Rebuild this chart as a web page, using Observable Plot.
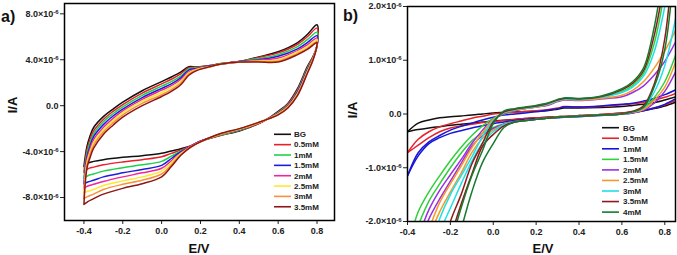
<!DOCTYPE html>
<html><head><meta charset="utf-8">
<script src="https://cdn.jsdelivr.net/npm/d3@7"></script>
<script src="https://cdn.jsdelivr.net/npm/@observablehq/plot@0.6"></script>
<style>
body{margin:0;background:#fff;}
#wrap{display:flex;width:677px;height:255px;overflow:hidden;}
#wrap svg{display:block;}
</style>
</head><body><div id="wrap"></div>
<script>
// ---------- Panel a (currents in units of 1e-6 A) ----------
const aNames = ["BG","0.5mM","1mM","1.5mM","2mM","2.5mM","3mM","3.5mM"];
const aColors = ["#111111","#e8202a","#1fd14a","#1c1ce0","#f0259e","#ffe730","#f7923a","#8e1616"];
const aXTicks = [-0.4,-0.2,0,0.2,0.4,0.6,0.8];
const aYTicks = [-8,-4,0,4,8];
// forward (anodic) sweep potentials
const aUpE = [-0.4,-0.385,-0.37,-0.35,-0.3,-0.25,-0.2,-0.1,0,0.05,0.1,0.14,0.18,0.25,0.3,0.4,0.5,0.6,0.7,0.75,0.8];
const aUpBG  = [-5.3,-3.6,-2.7,-1.9,-0.95,-0.3,0.3,1.3,2.1,2.5,2.95,3.4,3.38,3.5,3.65,3.85,4.25,4.7,5.5,6.2,7.05];
const aUp05  = [-5.8,-3.9,-3.0,-2.2,-1.2,-0.5,0.1,1.1,1.9,2.3,2.8,3.3,3.35,3.5,3.65,3.85,4.2,4.6,5.35,6.0,6.75];
const aUp10  = [-6.3,-4.2,-3.3,-2.45,-1.4,-0.7,-0.1,0.9,1.7,2.1,2.6,3.2,3.3,3.45,3.65,3.85,4.1,4.45,5.15,5.75,6.4];
const aUp15  = [-6.8,-4.5,-3.6,-2.7,-1.65,-0.9,-0.3,0.7,1.5,1.9,2.45,3.1,3.25,3.45,3.6,3.85,4.0,4.3,4.95,5.5,6.1];
const aUp20  = [-7.2,-4.75,-3.85,-2.95,-1.9,-1.1,-0.45,0.55,1.35,1.75,2.3,2.95,3.2,3.4,3.6,3.8,3.95,4.15,4.8,5.3,5.9];
const aUp25  = [-7.6,-5.0,-4.1,-3.2,-2.1,-1.3,-0.6,0.4,1.15,1.6,2.15,2.85,3.15,3.4,3.6,3.8,3.9,4.0,4.7,5.15,5.75];
const aUp30  = [-8.1,-5.25,-4.35,-3.45,-2.3,-1.5,-0.8,0.2,0.95,1.4,2.0,2.75,3.1,3.4,3.6,3.8,3.85,3.9,4.55,5.0,5.6];
const aUp35  = [-8.6,-5.5,-4.6,-3.7,-2.5,-1.7,-1.0,0.0,0.8,1.25,1.85,2.65,3.05,3.4,3.6,3.8,3.8,3.8,4.45,4.9,5.5];
// reverse (cathodic) sweep potentials
const aLoE = [0.8,0.78,0.75,0.7,0.65,0.6,0.55,0.5,0.4,0.3,0.2,0.15,0.1,0.05,0,-0.1,-0.2,-0.3,-0.35,-0.38,-0.4];
const aLoBG  = [5.2,4.3,3.4,1.5,0.2,-0.5,-1.1,-1.55,-2.2,-2.6,-3.1,-3.5,-3.75,-3.95,-4.15,-4.35,-4.5,-4.7,-4.85,-5.0,-5.3];
const aLo05  = [5.2,4.25,3.3,1.4,0.15,-0.55,-1.1,-1.55,-2.15,-2.6,-3.1,-3.5,-3.85,-4.15,-4.45,-4.7,-4.9,-5.15,-5.35,-5.5,-5.8];
const aLo10  = [5.25,4.2,3.2,1.3,0.05,-0.6,-1.1,-1.5,-2.15,-2.55,-3.1,-3.55,-3.95,-4.4,-4.85,-5.15,-5.4,-5.7,-5.95,-6.1,-6.3];
const aLo15  = [5.25,4.15,3.1,1.2,0.0,-0.65,-1.12,-1.5,-2.1,-2.5,-3.1,-3.55,-4.0,-4.6,-5.2,-5.55,-5.85,-6.2,-6.5,-6.65,-6.8];
const aLo20  = [5.25,4.1,3.0,1.1,-0.05,-0.7,-1.13,-1.5,-2.05,-2.5,-3.1,-3.55,-4.1,-4.8,-5.45,-5.85,-6.2,-6.6,-6.85,-7.0,-7.2];
const aLo25  = [5.3,4.1,2.95,1.05,-0.1,-0.72,-1.14,-1.48,-2.05,-2.5,-3.15,-3.6,-4.15,-4.95,-5.7,-6.2,-6.55,-6.95,-7.3,-7.45,-7.6];
const aLo30  = [5.3,4.05,2.85,0.95,-0.15,-0.76,-1.15,-1.46,-2.02,-2.47,-3.15,-3.6,-4.25,-5.15,-5.95,-6.5,-6.85,-7.3,-7.7,-7.9,-8.1];
const aLo35  = [5.3,4.0,2.8,0.9,-0.2,-0.8,-1.15,-1.45,-2.0,-2.45,-3.15,-3.6,-4.3,-5.3,-6.2,-6.8,-7.2,-7.7,-8.1,-8.35,-8.6];

// ---------- Panel b (currents in units of 1e-6 A) ----------
const bNames = ["BG","0.5mM","1mM","1.5mM","2mM","2.5mM","3mM","3.5mM","4mM"];
const bColors = ["#111111","#e8202a","#1616d8","#2fd03a","#9a30e0","#f59a2a","#1ee0e8","#8e1a1a","#157a2e"];
const bXTicks = [-0.4,-0.2,0,0.2,0.4,0.6,0.8];
const bYTicks = [-2,-1,0,1,2];
const bUpE = [-0.4,-0.35,-0.3,-0.25,-0.2,-0.15,-0.1,-0.05,0,0.05,0.1,0.15,0.2,0.25,0.3,0.33,0.4,0.5,0.6,0.65,0.7,0.75,0.8,0.85];
const bUpBG = [-0.33,-0.17,-0.11,-0.07,-0.05,-0.035,-0.02,0.0,0.02,0.03,0.04,0.045,0.05,0.06,0.09,0.11,0.11,0.12,0.14,0.16,0.18,0.21,0.26,0.32];
const bUp05 = [-0.72,-0.47,-0.33,-0.24,-0.18,-0.13,-0.08,-0.04,0.0,0.02,0.03,0.045,0.06,0.08,0.11,0.14,0.13,0.14,0.17,0.19,0.22,0.26,0.31,0.38];
const bUp10 = [-1.15,-0.72,-0.52,-0.4,-0.3,-0.23,-0.17,-0.11,-0.06,-0.02,0.0,0.02,0.04,0.07,0.1,0.13,0.13,0.15,0.18,0.2,0.24,0.29,0.36,0.45];
const bUp15 = [-2.5,-1.82,-1.45,-1.15,-0.87,-0.62,-0.4,-0.22,-0.08,0.0,0.06,0.1,0.13,0.16,0.24,0.27,0.26,0.3,0.42,0.53,0.75,1.3,2.3,3.6];
const bUp20 = [-2.9,-2.3,-1.78,-1.42,-1.13,-0.85,-0.55,-0.3,-0.1,0.01,0.06,0.1,0.13,0.16,0.23,0.26,0.25,0.28,0.32,0.4,0.52,0.72,0.98,1.34];
const bUp25 = [-3.4,-2.75,-2.15,-1.65,-1.3,-0.97,-0.63,-0.35,-0.1,0.02,0.07,0.1,0.13,0.17,0.24,0.27,0.26,0.29,0.35,0.44,0.6,0.85,1.17,1.55];
const bUp30 = [-4.1,-3.3,-2.6,-1.95,-1.5,-1.15,-0.8,-0.42,-0.12,0.03,0.08,0.11,0.14,0.18,0.25,0.28,0.27,0.31,0.4,0.5,0.7,1.15,2.0,3.3];
const bUp35 = [-5.3,-4.4,-3.5,-2.7,-2.0,-1.5,-0.93,-0.54,-0.15,0.04,0.09,0.12,0.15,0.19,0.26,0.29,0.28,0.32,0.45,0.57,0.8,1.45,2.5,3.8];
const bUp40 = [-6.2,-5.2,-4.3,-3.35,-2.45,-1.75,-1.15,-0.68,-0.18,0.06,0.1,0.13,0.16,0.2,0.27,0.3,0.29,0.33,0.47,0.6,0.85,1.6,2.8,4.0];
const bLoE = [0.85,0.8,0.75,0.7,0.65,0.6,0.5,0.4,0.33,0.3,0.25,0.2,0.15,0.1,0.05,0,-0.05,-0.1,-0.15,-0.2,-0.25,-0.3,-0.35,-0.4];
const bLoBG = [0.22,0.15,0.1,0.06,0.035,0.02,-0.01,-0.03,-0.045,-0.05,-0.06,-0.07,-0.085,-0.1,-0.115,-0.13,-0.15,-0.17,-0.19,-0.21,-0.235,-0.26,-0.29,-0.33];
const bLo05 = [0.25,0.17,0.11,0.07,0.04,0.02,-0.01,-0.03,-0.045,-0.05,-0.06,-0.07,-0.085,-0.1,-0.12,-0.14,-0.16,-0.19,-0.22,-0.26,-0.33,-0.44,-0.58,-0.72];
const bLo10 = [0.28,0.18,0.11,0.06,0.02,0.0,-0.03,-0.05,-0.06,-0.07,-0.08,-0.09,-0.1,-0.12,-0.15,-0.18,-0.22,-0.26,-0.31,-0.36,-0.44,-0.55,-0.78,-1.15];
const bLo15 = [1.09,0.6,0.3,0.1,0.03,0.0,-0.02,-0.04,-0.05,-0.06,-0.08,-0.1,-0.12,-0.14,-0.18,-0.25,-0.35,-0.5,-0.73,-1.0,-1.3,-1.62,-2.07,-2.55];
const bLo20 = [0.78,0.42,0.2,0.07,0.02,0.0,-0.02,-0.04,-0.05,-0.06,-0.08,-0.1,-0.12,-0.14,-0.19,-0.27,-0.4,-0.6,-0.92,-1.25,-1.58,-1.95,-2.45,-3.0];
const bLo25 = [0.96,0.5,0.25,0.08,0.03,0.0,-0.02,-0.04,-0.05,-0.06,-0.08,-0.1,-0.12,-0.15,-0.2,-0.3,-0.45,-0.72,-1.1,-1.45,-1.82,-2.3,-2.85,-3.4];
const bLo30 = [1.77,0.9,0.4,0.12,0.04,0.0,-0.02,-0.04,-0.05,-0.06,-0.08,-0.1,-0.12,-0.15,-0.2,-0.33,-0.54,-0.88,-1.3,-1.75,-2.2,-2.75,-3.3,-3.9];
const bLo35 = [3.5,1.4,0.55,0.15,0.05,0.0,-0.02,-0.04,-0.05,-0.06,-0.08,-0.1,-0.12,-0.15,-0.22,-0.38,-0.6,-1.12,-1.68,-2.3,-2.95,-3.6,-4.3,-5.0];
const bLo40 = [3.0,1.2,0.5,0.12,0.04,0.0,-0.02,-0.04,-0.05,-0.06,-0.08,-0.1,-0.12,-0.15,-0.25,-0.55,-0.9,-1.45,-2.15,-2.9,-3.6,-4.3,-5.0,-5.7];

const aUp = [aUpBG,aUp05,aUp10,aUp15,aUp20,aUp25,aUp30,aUp35];
const aLo = [aLoBG,aLo05,aLo10,aLo15,aLo20,aLo25,aLo30,aLo35];
const bUp = [bUpBG,bUp05,bUp10,bUp15,bUp20,bUp25,bUp30,bUp35,bUp40];
const bLo = [bLoBG,bLo05,bLo10,bLo15,bLo20,bLo25,bLo30,bLo35,bLo40];

function buildRows(names, upE, up, loE, lo, joined) {
  const rows = [];
  names.forEach((s, i) => {
    upE.forEach((e, j) => rows.push({s, g: joined ? s : s + "|u", E: e, I: up[i][j]}));
    loE.forEach((e, j) => rows.push({s, g: joined ? s : s + "|l", E: e, I: lo[i][j]}));
  });
  return rows;
}
const aRows = buildRows(aNames, aUpE, aUp, aLoE, aLo, true);
const bRows = buildRows(bNames, bUpE, bUp, bLoE, bLo, false);

const FONT = "'Liberation Sans', Arial, Helvetica, sans-serif";
const yFmt = v => v === 0 ? "0.0" : v.toFixed(1) + "^";

function makePlot(o) {
  return Plot.plot({
    width: o.width, height: 255,
    marginLeft: o.ml, marginRight: o.mr, marginTop: o.mt, marginBottom: o.mb,
    style: {fontFamily: FONT, fontSize: "9px", fontWeight: "bold", color: "#222", background: "white", overflow: "visible"},
    x: {domain: o.xd, ticks: o.xt, tickFormat: d => d.toFixed(1), label: null, tickSize: 4, tickPadding: 3},
    y: {domain: o.yd, ticks: o.yt, tickFormat: yFmt, label: null, tickSize: 4, tickPadding: 2},
    color: {domain: o.names, range: o.colors},
    marks: [
      Plot.line(o.rows, {x: "E", y: "I", z: "g", stroke: "s", strokeWidth: 1.5, curve: "catmull-rom", clip: true}),
      Plot.frame({stroke: "black", strokeWidth: 1.5})
    ]
  });
}

function decorate(svg, o) {
  const s = d3.select(svg);
  s.selectAll("text").each(function() {
    const t = this.textContent;
    if (t.endsWith("^")) {
      const base = t.slice(0, -1);
      const el = d3.select(this);
      el.text(null);
      el.append("tspan").text(base + "×10");
      el.append("tspan").attr("dy", "-0.45em").attr("font-size", "6px").text("-6");
    }
  });
  const add = (x, y, txt, size, anchor, rot) => {
    const t = s.append("text").attr("font-family", FONT).attr("font-weight", "bold")
      .attr("font-size", size).attr("fill", "#111").attr("text-anchor", anchor).text(txt);
    if (rot) t.attr("transform", `translate(${x},${y}) rotate(-90)`).attr("dy", "0.35em");
    else t.attr("x", x).attr("y", y);
  };
  add(o.panelX, o.panelY, o.panel, 16, "start");
  add(o.exX, 253, "E/V", 13, "middle");
  add(o.iaX, o.iaY, "I/A", 13, "middle", true);
  const lg = s.append("g");
  o.names.forEach((n, i) => {
    const y = o.lgY + i * o.lgStep;
    lg.append("line").attr("x1", o.lgX1).attr("x2", o.lgX2).attr("y1", y).attr("y2", y)
      .attr("stroke", o.colors[i]).attr("stroke-width", 1.6);
    lg.append("text").attr("x", o.lgT).attr("y", y).attr("dy", "0.35em")
      .attr("text-anchor", "start")
      .attr("font-family", FONT).attr("font-weight", "bold").attr("font-size", 8)
      .attr("fill", "#222").text(n);
  });
}

const wrap = document.getElementById("wrap");
const oa = {width: 338, ml: 64, mr: 4, mt: 3, mb: 35, xd: [-0.5, 0.89], yd: [-10, 8.9], xt: aXTicks, yt: aYTicks,
  names: aNames, colors: aColors, rows: aRows,
  panel: "a)", panelX: 1, panelY: 21.5, exX: 199, iaX: 12.5, iaY: 105,
  lgX1: 274, lgX2: 291, lgT: 294, lgY: 134.3, lgStep: 10.35};
const ob = {width: 339, ml: 69, mr: 2, mt: 6, mb: 34, xd: [-0.4, 0.85], yd: [-2, 2], xt: bXTicks, yt: bYTicks,
  names: bNames, colors: bColors, rows: bRows,
  panel: "b)", panelX: 5, panelY: 20.7, exX: 205, iaX: 14.5, iaY: 110,
  lgX1: 264, lgX2: 281, lgT: 285, lgY: 127.7, lgStep: 10.55};
[oa, ob].forEach(o => {
  const p = makePlot(o);
  wrap.appendChild(p);
  decorate(p, o);
});
</script>
</body></html>
